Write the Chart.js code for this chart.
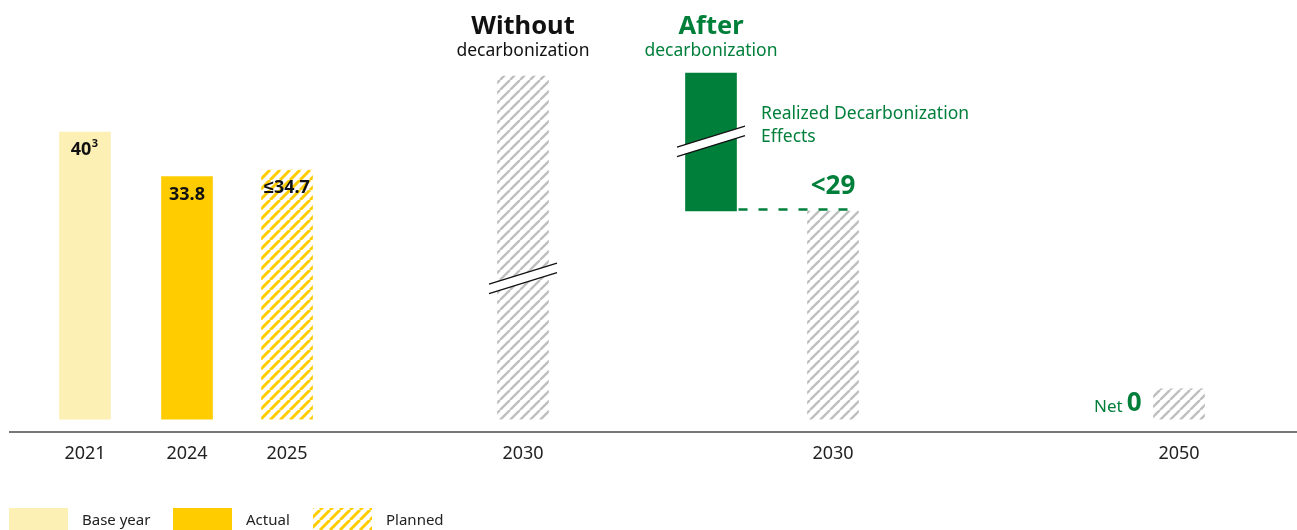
<!DOCTYPE html>
<html>
<head>
<meta charset="utf-8">
<script src="https://cdn.jsdelivr.net/npm/chart.js@4.4.1/dist/chart.umd.min.js"></script>
<style>
  body { margin: 0; background: #fff; }
  #wrap { width: 1297px; height: 530px; position: relative; }
</style>
</head>
<body>
<div id="wrap"><canvas id="chart"></canvas></div>
<script>
// posiciones en el eje x (unidades del eje lineal) y etiquetas de cada barra
const xSlots = [75, 177, 277, 513, 701, 823, 1169];
const tickLabels = ['2021', '2024', '2025', '2030', '', '2030', '2050'];
const lowValues = [0, 0, 0, 0, 29, 0, 0];
const highValues = [40, 33.8, 34.7, 47.8, 48.2, 29, 4.2];
const barLabels = ['40', '33.8', '≤34.7', '', '', '<29', '0'];
const breakValues = [null, null, null, 19.6, 38.7, null, null];
const legendLabels = ['Base year', 'Actual', 'Planned'];

const GREEN = '#007f3b';
const PALE = '#fdf0b4';
const GOLD = '#ffcc00';
const FONT = '"Noto Sans", sans-serif';

function hatch(color, p, w) {
    const c = document.createElement('canvas');
    c.width = p; c.height = p;
    const g = c.getContext('2d');
    g.fillStyle = '#fff';
    g.fillRect(0, 0, p, p);
    g.strokeStyle = color;
    g.lineWidth = w;
    g.beginPath();
    [-p, 0, p].forEach(k => {
        g.moveTo(k, p);
        g.lineTo(k + p, 0);
    });
    g.stroke();
    return g.createPattern(c, 'repeat');
}

const yellowHatch = hatch(GOLD, 10, 3.0);
const grayHatch = hatch('#bfbfbf', 10, 2.4);
const barColors = [PALE, GOLD, yellowHatch, grayHatch, GREEN, grayHatch, grayHatch];

const extras = {
    id: 'extras',
    afterDatasetsDraw(chart) {
        const ctx = chart.ctx;
        const xs = chart.scales.x, ys = chart.scales.y;
        const half = 25.5;
        ctx.save();

        // cortes en las barras
        breakValues.forEach((v, i) => {
            if (v === null) return;
            const cx = xs.getPixelForValue(xSlots[i]);
            const cy = ys.getPixelForValue(v);
            const dx = 34, dy = 10.5, gap = 9.5;
            ctx.beginPath();
            ctx.moveTo(cx - dx, cy + dy - gap / 2);
            ctx.lineTo(cx + dx, cy - dy - gap / 2);
            ctx.lineTo(cx + dx, cy - dy + gap / 2);
            ctx.lineTo(cx - dx, cy + dy + gap / 2);
            ctx.closePath();
            ctx.fillStyle = '#fff';
            ctx.fill();
            ctx.strokeStyle = '#111';
            ctx.lineWidth = 1.3;
            ctx.beginPath();
            ctx.moveTo(cx - dx, cy + dy - gap / 2);
            ctx.lineTo(cx + dx, cy - dy - gap / 2);
            ctx.moveTo(cx - dx, cy + dy + gap / 2);
            ctx.lineTo(cx + dx, cy - dy + gap / 2);
            ctx.stroke();
        });

        // linea discontinua verde
        const yDash = ys.getPixelForValue(lowValues[4]) - 1.5;
        ctx.strokeStyle = GREEN;
        ctx.lineWidth = 2.5;
        ctx.setLineDash([9, 11]);
        ctx.beginPath();
        ctx.moveTo(xs.getPixelForValue(xSlots[4]) + half + 2, yDash);
        ctx.lineTo(xs.getPixelForValue(xSlots[5]) + half, yDash);
        ctx.stroke();
        ctx.setLineDash([]);

        // etiquetas de valores
        ctx.textBaseline = 'middle';
        ctx.textAlign = 'center';
        ctx.fillStyle = '#111';
        ctx.font = 'bold 18px ' + FONT;
        [0, 1, 2].forEach(i => {
            const cx = xs.getPixelForValue(xSlots[i]);
            const top = ys.getPixelForValue(highValues[i]);
            if (i === 0) {
                const w = ctx.measureText(barLabels[i]).width;
                ctx.fillText(barLabels[i], cx - 4, top + 18);
                ctx.font = 'bold 11px ' + FONT;
                ctx.textAlign = 'left';
                ctx.fillText('3', cx - 4 + w / 2 + 0.5, top + 12);
                ctx.font = 'bold 18px ' + FONT;
                ctx.textAlign = 'center';
            } else {
                ctx.fillText(barLabels[i], cx, top + 18);
            }
        });

        ctx.fillStyle = GREEN;
        ctx.font = 'bold 26px ' + FONT;
        ctx.fillText(barLabels[5], xs.getPixelForValue(xSlots[5]), ys.getPixelForValue(highValues[5]) - 24);

        // Net 0
        const left2050 = xs.getPixelForValue(xSlots[6]) - half;
        const yNet = ys.getPixelForValue(highValues[6]) + 15;
        ctx.textAlign = 'right';
        ctx.font = 'bold 26px ' + FONT;
        ctx.fillText(barLabels[6], left2050 - 12, yNet);
        const zw = ctx.measureText(barLabels[6]).width;
        ctx.font = '17px ' + FONT;
        ctx.fillText('Net', left2050 - 12 - zw - 4, yNet + 3);

        // encabezados
        ctx.textAlign = 'center';
        const hx1 = xs.getPixelForValue(xSlots[3]);
        const hx2 = xs.getPixelForValue(xSlots[4]);
        ctx.font = 'bold 25.5px ' + FONT;
        ctx.fillStyle = '#111';
        ctx.fillText('Without', hx1, 27);
        ctx.fillStyle = GREEN;
        ctx.fillText('After', hx2, 27);
        ctx.font = '17.5px ' + FONT;
        ctx.fillStyle = '#111';
        ctx.fillText('decarbonization', hx1, 51);
        ctx.fillStyle = GREEN;
        ctx.fillText('decarbonization', hx2, 51);

        ctx.textAlign = 'left';
        ctx.fillText('Realized Decarbonization', 761, 114);
        ctx.fillText('Effects', 761, 137);

        // leyenda
        const legendFill = [PALE, GOLD, yellowHatch];
        const boxX = [9, 173, 313];
        ctx.font = '15px ' + FONT;
        legendLabels.forEach((lab, i) => {
            ctx.fillStyle = legendFill[i];
            ctx.fillRect(boxX[i], 508, 59, 24);
            ctx.fillStyle = '#222';
            ctx.fillText(lab, boxX[i] + 73, 521);
        });
        ctx.restore();
    }
};

new Chart(document.getElementById('chart'), {
    type: 'bar',
    data: {
        datasets: [{
            data: xSlots.map((x, i) => ({ x: x, y: [lowValues[i], highValues[i]] })),
            backgroundColor: barColors,
            borderWidth: 0,
            barThickness: 51
        }]
    },
    options: {
        responsive: true,
        maintainAspectRatio: false,
        animation: false,
        layout: { padding: { left: 10, right: 0, top: 0, bottom: 0 } },
        plugins: { legend: { display: false }, tooltip: { enabled: false } },
        scales: {
            x: {
                type: 'linear',
                offset: false,
                min: 0,
                max: 1287,
                grid: { display: false, drawTicks: false },
                border: { color: '#777', width: 2 },
                afterBuildTicks: s => { s.ticks = xSlots.map(v => ({ value: v })); },
                afterFit: s => { s.height = 98; },
                ticks: {
                    padding: 11,
                    color: '#222',
                    font: { family: FONT, size: 18 },
                    maxRotation: 0,
                    autoSkip: false,
                    callback: (v, i) => tickLabels[i]
                }
            },
            y: {
                display: false,
                min: -1.8,
                max: 58.4
            }
        }
    },
    plugins: [extras]
});
</script>
</body>
</html>
